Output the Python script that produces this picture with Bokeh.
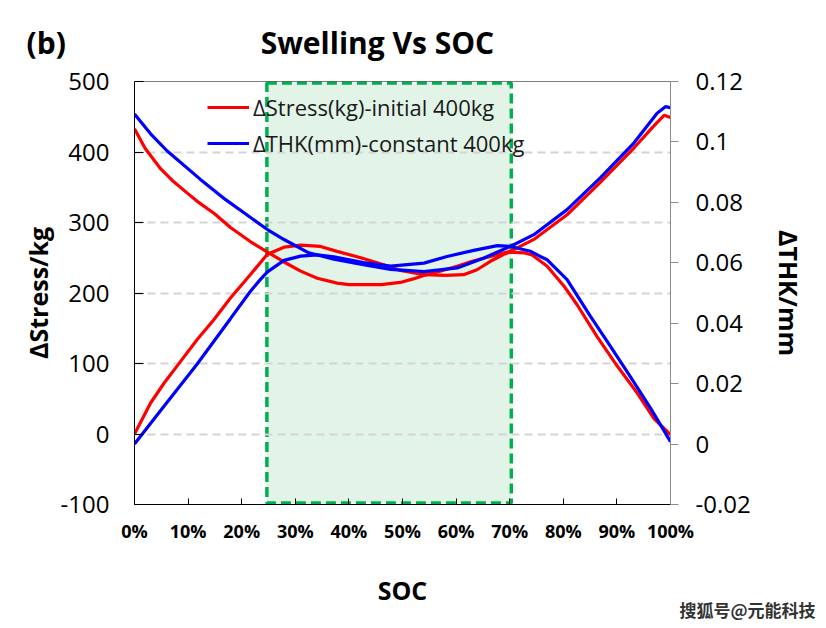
from bokeh.plotting import figure
from bokeh.models import (Range1d, LinearAxis, FixedTicker, BoxAnnotation, Span,
                          Legend, LegendItem, Title)
from bokeh.embed import file_html
from bokeh.resources import INLINE

# ---------------- data ----------------
# red, stress curve that starts high (kg)
stress_a_soc = [0, 2, 4.9, 7, 9.8, 11.7, 15, 17.9, 21.6, 24.8, 27.9, 31, 34.1, 37.8, 40,
                43.4, 46, 49.6, 52, 54, 57, 60.2, 63, 66, 70.1, 74.5, 80.7, 86.9, 93.2,
                96.9, 98.8, 100]
stress_a = [433, 405, 376, 360, 342, 330, 312, 293, 273, 258, 244, 231, 221, 214, 212,
            212, 212, 215, 220, 225, 231, 238, 245, 251, 259, 276, 311, 357, 406,
            437, 452, 449]
# red, stress curve that starts at zero (kg)
stress_b_soc = [0, 3, 5.5, 8.6, 11.7, 14.8, 17.9, 21.6, 24.8, 27.9, 31, 34.7, 37.8, 42.2,
                46.5, 49.6, 54, 58, 61.4, 63.9, 66.4, 68.9, 70.1, 72.6, 74.2, 77, 80.1,
                82.6, 86.3, 90.1, 93.8, 96.9, 100]
stress_b = [0, 44, 72, 103, 134, 162, 193, 226, 255, 265, 268, 266, 259, 250,
            240, 232, 226, 225, 226, 233, 245, 255, 258, 257, 254, 238, 210,
            183, 138, 96, 58, 22, -1]
# blue, thickness curve that starts high (mm)
thk_a_soc = [0, 3, 6.1, 12.3, 17, 24.8, 27.9, 32.5, 37.2, 42.7, 47.8, 54, 60.2, 65.2,
             70.1, 74.5, 80.7, 86.9, 93.2, 97.5, 99.1, 100]
thk_a = [0.1092, 0.1027, 0.0970, 0.0876, 0.0809, 0.0710, 0.0677, 0.0633, 0.0612, 0.0594,
         0.0578, 0.0571, 0.0583, 0.0616, 0.0654, 0.0693, 0.0776, 0.0881, 0.0997, 0.1095,
         0.1117, 0.1113]
# blue, thickness curve that starts at zero (mm)
thk_b_soc = [0, 5.5, 11.7, 17.9, 21.6, 23.5, 24.8, 27.9, 31, 34.1, 37.2, 42.7, 47.8, 54,
             58.3, 63.3, 67.7, 70.1, 73.9, 75.7, 77, 80.7, 85.1, 88.8, 92.5, 96.3, 100]
thk_b = [0.0, 0.0125, 0.0265, 0.0415, 0.0505, 0.0545, 0.0570, 0.0608, 0.0622, 0.0626,
         0.0620, 0.0601, 0.0589, 0.0599, 0.0621, 0.0641, 0.0657, 0.0654, 0.0638, 0.0621,
         0.0610, 0.0544, 0.0422, 0.0323, 0.0223, 0.0118, 0.0008]

x_ticks = [0, 10, 20, 30, 40, 50, 60, 70, 80, 90, 100]
x_tick_labels = ["0%", "10%", "20%", "30%", "40%", "50%", "60%", "70%", "80%", "90%", "100%"]
left_ticks = [-100, 0, 100, 200, 300, 400, 500]
left_tick_labels = ["-100", "0", "100", "200", "300", "400", "500"]
right_ticks = [-0.02, 0.0, 0.02, 0.04, 0.06, 0.08, 0.1, 0.12]
right_tick_labels = ["-0.02", "0", "0.02", "0.04", "0.06", "0.08", "0.1", "0.12"]

legend_labels = ["ΔStress(kg)-initial 400kg", "ΔTHK(mm)-constant 400kg"]
panel_tag = "(b)"
title_text = "Swelling Vs SOC"
watermark = "搜狐号@元能科技"

FONT = "Open Sans"

p = figure(width=826, height=628, output_backend="svg", toolbar_location=None,
           x_range=Range1d(0, 100), y_range=Range1d(-100, 500),
           min_border_left=134, min_border_right=156, min_border_top=81,
           min_border_bottom=124, outline_line_color=None,
           background_fill_color="white", border_fill_color="white")
p.extra_y_ranges = {"thk": Range1d(-0.02, 0.12)}

# highlighted SOC window
box = BoxAnnotation(left=24.7, right=70.3, bottom=-98, top=498, level="image",
                    fill_color="#e2f4e8", fill_alpha=1.0,
                    line_color="#00b050", line_alpha=1.0, line_width=3.5, line_dash="10 5")
p.add_layout(box)

# grid
p.xgrid.visible = False
p.ygrid.ticker = FixedTicker(ticks=left_ticks)
p.ygrid.grid_line_color = "#d4d4d4"
p.ygrid.grid_line_width = 2
p.ygrid.grid_line_dash = "8 5"

# top border
p.add_layout(Span(location=500, dimension="width", line_color="black", line_width=1))

# curves
r_a = p.line(stress_a_soc, stress_a, line_color="#ff0000", line_width=3.2)
r_b = p.line(stress_b_soc, stress_b, line_color="#ff0000", line_width=3.2)
b_a = p.line(thk_a_soc, thk_a, line_color="#0000ff", line_width=3.2, y_range_name="thk")
b_b = p.line(thk_b_soc, thk_b, line_color="#0000ff", line_width=3.2, y_range_name="thk")

# x axis
xa = p.xaxis[0]
xa.ticker = FixedTicker(ticks=x_ticks)
xa.major_label_overrides = {t: s for t, s in zip(x_ticks, x_tick_labels)}
xa.major_tick_in = 6
xa.major_tick_out = 0
xa.minor_tick_line_color = None
xa.axis_line_color = "black"
xa.major_tick_line_color = "black"
xa.major_label_text_font = FONT
xa.major_label_text_font_size = "18px"
xa.major_label_text_font_style = "bold"
xa.major_label_text_color = "black"
xa.major_label_standoff = 14
xa.axis_label = "SOC"
xa.axis_label_text_font = FONT
xa.axis_label_text_font_size = "25px"
xa.axis_label_text_font_style = "bold"
xa.axis_label_text_color = "black"
xa.axis_label_standoff = 27

# left axis
ya = p.yaxis[0]
ya.ticker = FixedTicker(ticks=left_ticks)
ya.major_label_overrides = {t: s for t, s in zip(left_ticks, left_tick_labels)}
ya.major_tick_in = 9
ya.major_tick_out = 0
ya.minor_tick_line_color = None
ya.axis_line_color = "black"
ya.major_tick_line_color = "black"
ya.major_label_text_font = FONT
ya.major_label_text_font_size = "24px"
ya.major_label_text_color = "black"
ya.major_label_standoff = 25
ya.axis_label = "ΔStress/kg"
ya.axis_label_text_font = FONT
ya.axis_label_text_font_size = "25px"
ya.axis_label_text_font_style = "bold"
ya.axis_label_text_color = "black"
ya.axis_label_standoff = 3

# right axis
ra = LinearAxis(y_range_name="thk", ticker=FixedTicker(ticks=right_ticks))
ra.major_label_overrides = {t: s for t, s in zip(right_ticks, right_tick_labels)}
ra.major_tick_in = 0
ra.major_tick_out = 8
ra.minor_tick_line_color = None
ra.axis_line_color = "#8c8c8c"
ra.major_tick_line_color = "#8c8c8c"
ra.major_label_text_font = FONT
ra.major_label_text_font_size = "24px"
ra.major_label_text_color = "black"
ra.major_label_standoff = 17
ra.axis_label = "ΔTHK/mm"
ra.axis_label_text_font = FONT
ra.axis_label_text_font_size = "25px"
ra.axis_label_text_font_style = "bold"
ra.axis_label_text_color = "black"
ra.axis_label_standoff = 18
p.add_layout(ra, "right")

# data legend
legend = Legend(items=[LegendItem(label=legend_labels[0], renderers=[r_a]),
                       LegendItem(label=legend_labels[1], renderers=[b_a])],
                location=(73, 346), background_fill_alpha=0, border_line_color=None,
                padding=0, margin=0, spacing=6, glyph_width=42, glyph_height=20,
                label_standoff=4, label_text_font=FONT, label_text_font_size="22px",
                label_text_color="#1a1a1a")
p.add_layout(legend)

# heading row: panel tag and title share one line in the top border
heading = panel_tag + "\u00a0" * 25 + title_text
p.add_layout(Title(text=heading, align="left", offset=-108, standoff=38,
                   vertical_align="bottom", text_font=FONT, text_font_size="30px",
                   text_font_style="bold", text_color="black"), "above")

# watermark at the bottom right
p.add_layout(Title(text=watermark, align="right", offset=-145, standoff=-26,
                   vertical_align="top", text_font="Noto Sans CJK SC",
                   text_font_size="17px", text_font_style="bold",
                   text_color="#333333"), "below")

open("out.html", "w").write(file_html(p, INLINE))
